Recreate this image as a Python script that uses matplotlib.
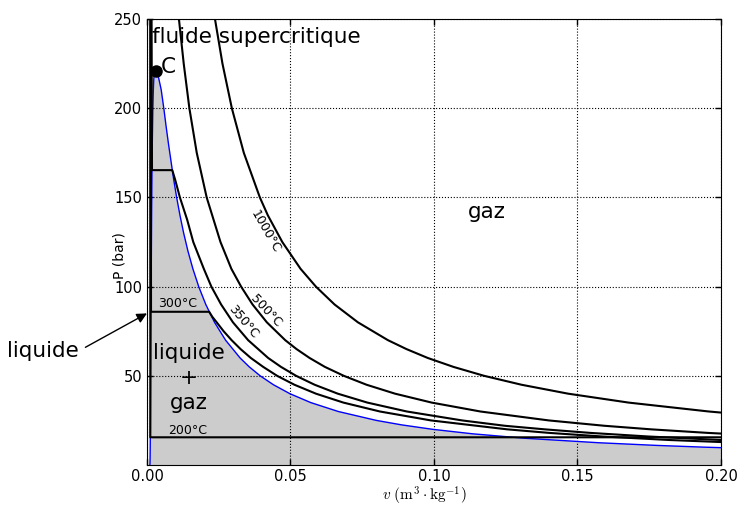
import numpy as np
import matplotlib
matplotlib.use('Agg')
import matplotlib.pyplot as plt

plt.rcParams['mathtext.fontset'] = 'cm'

# courbe de saturation (v en m3/kg, P en bar)
p_liq = [0.006, 1, 5, 10, 20, 40, 60, 80, 100, 120, 140, 160, 180, 200, 210.4, 216.1, 218.3, 220.64]
v_liq = [0.001000, 0.001043, 0.001093, 0.001127, 0.001177, 0.001252, 0.001319, 0.001384,
         0.001452, 0.001527, 0.001611, 0.001710, 0.001840, 0.002038, 0.00221, 0.00236, 0.00248, 0.003106]
p_vap = [220.64, 218.3, 216.1, 210.4, 200, 190, 180, 170, 160, 150, 140, 130, 120, 110, 100,
         90, 80, 70, 60, 55, 50, 45, 40, 35, 30, 25, 22.5, 20, 17.5, 15, 12.5, 11, 10, 9]
v_vap = [0.003106, 0.00388, 0.00418, 0.00495, 0.00586, 0.00665, 0.00749, 0.00840, 0.00931,
         0.01034, 0.01149, 0.01278, 0.01426, 0.01599, 0.01803, 0.02049, 0.02353, 0.02738,
         0.03245, 0.03565, 0.03944, 0.04406, 0.04978, 0.05706, 0.06666, 0.07995, 0.08875,
         0.09959, 0.11344, 0.13171, 0.15731, 0.17753, 0.19437, 0.21489]

# isothermes
v_200 = [0.001138, 0.001157, 0.21]
p_200 = [250, 15.54, 15.54]

v_300 = [0.00133, 0.001404, 0.02166, 0.02280, 0.02428, 0.02670, 0.02948, 0.03260, 0.03619,
         0.04050, 0.04535, 0.05138, 0.05887, 0.06843, 0.08118, 0.09894, 0.12551, 0.14020,
         0.15866, 0.18233, 0.21386]
p_300 = [250, 85.9, 85.9, 83, 80, 75, 70, 65, 60, 55, 50, 45, 40, 35, 30, 25, 20, 18, 16, 14, 12]

v_350 = [0.0016, 0.001741, 0.00881, 0.00980, 0.01147, 0.01400, 0.01613, 0.01980, 0.02243,
         0.02583, 0.02995, 0.03524, 0.04223, 0.04670, 0.05196, 0.05842, 0.06647, 0.07678,
         0.09056, 0.10980, 0.12470, 0.13860, 0.15457, 0.17459, 0.20029, 0.23455]
p_350 = [250, 165.3, 165.3, 160, 150, 137.5, 125, 110, 100, 90, 80, 70, 60, 55, 50, 45, 40,
         35, 30, 25, 22, 20, 18, 16, 14, 12]

v_500 = [0.01113, 0.01280, 0.01477, 0.01734, 0.02080, 0.02561, 0.02940, 0.03280, 0.03678,
         0.04176, 0.04816, 0.05210, 0.05667, 0.06200, 0.06859, 0.07651, 0.08643, 0.09919,
         0.11620, 0.13999, 0.15940, 0.17568, 0.19550, 0.22029]
p_500 = [250, 225, 200, 175, 150, 125, 110, 100, 90, 80, 70, 65, 60, 55, 50, 45, 40, 35, 30,
         25, 22, 20, 18, 16]

v_1000 = [0.02369, 0.02630, 0.02957, 0.03374, 0.03933, 0.04210, 0.04715, 0.05350, 0.05886,
          0.06535, 0.07349, 0.08394, 0.09040, 0.09785, 0.10680, 0.11747, 0.13050, 0.14673,
          0.16780, 0.19580, 0.20980]
p_1000 = [250, 225, 200, 175, 150, 140, 125, 110, 100, 90, 80, 70, 65, 60, 55, 50, 45, 40,
          35, 30, 28]

v_crit = 0.003106
p_crit = 220.64

fig = plt.figure(figsize=(7.39, 5.09), dpi=100)
ax = fig.add_axes([0.1989, 0.0864, 0.7767, 0.8762])

# zone liquide + gaz
v_dome = v_liq + v_vap[1:] + [v_vap[-1], v_liq[0]]
p_dome = p_liq + p_vap[1:] + [0, 0]
ax.fill(v_dome, p_dome, color='#cccccc', lw=0, zorder=1)
ax.plot(v_liq, p_liq, color='blue', lw=1, zorder=3)
ax.plot(v_vap, p_vap, color='blue', lw=1, zorder=3)

for v, p in [(v_200, p_200), (v_300, p_300), (v_350, p_350), (v_500, p_500), (v_1000, p_1000)]:
    ax.plot(v, p, color='k', lw=1.5, zorder=4)

ax.plot([v_crit], [p_crit], 'o', color='k', ms=8, zorder=5)
ax.text(0.0048, 220, 'C', fontsize=15.5, va='baseline', ha='left')

ax.text(0.0017, 236.5, 'fluide supercritique', fontsize=15.5, va='baseline', ha='left')
ax.text(0.1185, 141.8, 'gaz', fontsize=15.5, ha='center', va='center')
ax.text(0.0146, 48.8, 'liquide\n+\ngaz', fontsize=15.5, ha='center', va='center',
        multialignment='center', linespacing=1.32)

ax.text(0.0143, 19.2, '200°C', fontsize=9, ha='center', va='center')
ax.text(0.0108, 90.8, '300°C', fontsize=9, ha='center', va='center')
ax.text(0.0337, 80.5, '350°C', fontsize=9, ha='center', va='center', rotation=-50)
ax.text(0.0415, 86.5, '500°C', fontsize=9, ha='center', va='center', rotation=-47)
ax.text(0.0412, 130.6, '1000°C', fontsize=9, ha='center', va='center', rotation=-60)

ax.annotate('liquide', xy=(0, 85), xytext=(-0.0362, 64), fontsize=15.5,
            ha='center', va='center', annotation_clip=False,
            arrowprops=dict(arrowstyle='-|>', color='k', lw=1, mutation_scale=15,
                            relpos=(1, 0.5), shrinkA=3, shrinkB=0))

ax.set_xlim(0, 0.2)
ax.set_ylim(0, 250)
ax.set_xticks([0, 0.05, 0.10, 0.15, 0.20])
ax.set_xticklabels(['0.00', '0.05', '0.10', '0.15', '0.20'])
ax.set_yticks([50, 100, 150, 200, 250])
ax.tick_params(direction='in', top=True, right=True, labelsize=10.5, length=4, width=1)
ax.tick_params(axis='x', pad=3)
ax.grid(True, linestyle=':', color='k', lw=0.8)
ax.set_axisbelow(False)

ax.set_xlabel(r'$v\ (\mathrm{m}^3\cdot\mathrm{kg}^{-1})$', fontsize=11)
ax.xaxis.set_label_coords(0.483, -0.045)
ax.set_ylabel('P (bar)', fontsize=10)
ax.yaxis.set_label_coords(-0.035, 0.47)

fig.savefig('out.png', dpi=100)
